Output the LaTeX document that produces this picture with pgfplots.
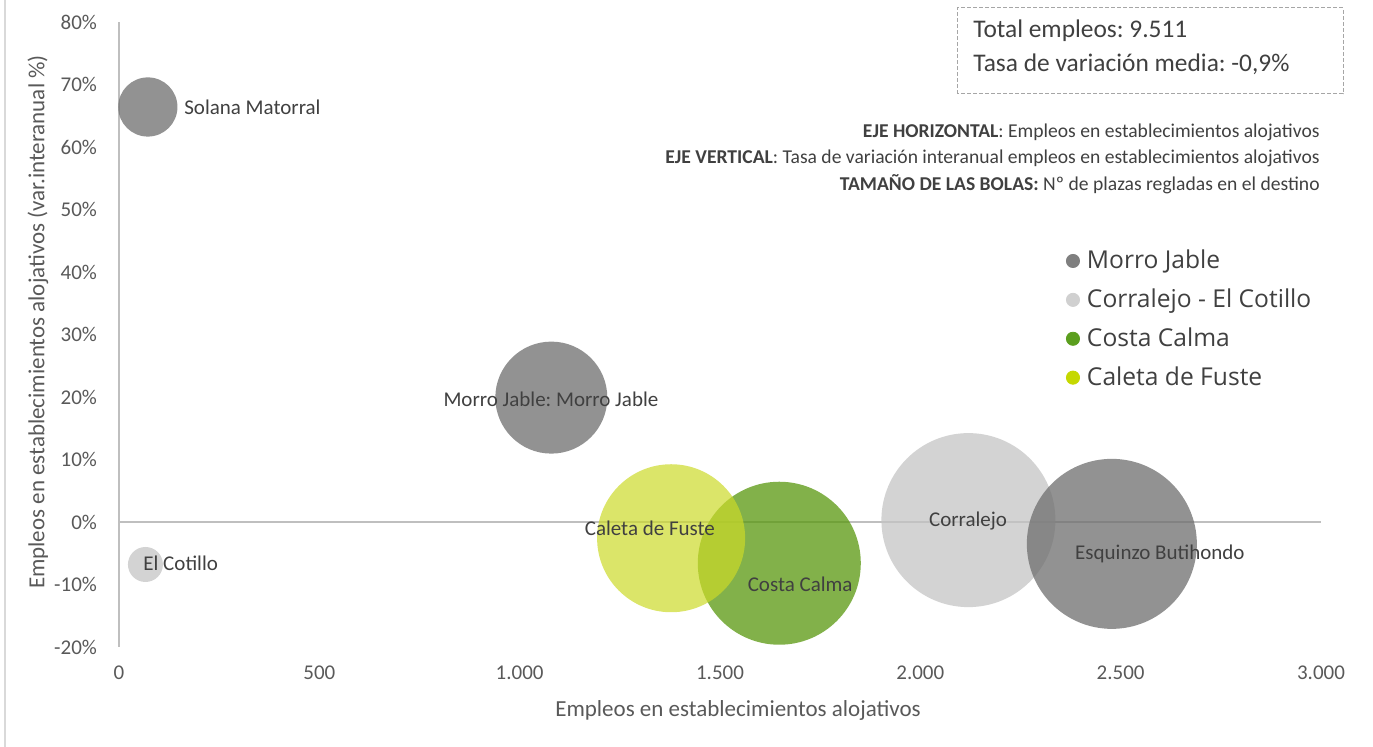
\documentclass[border=0pt]{standalone}
\usepackage{fontspec}
\setmainfont{Carlito}
\newfontfamily\legfont{Open Sans}
\usepackage{pgfplots}
\pgfplotsset{compat=1.18}
\definecolor{txt}{HTML}{404040}
\definecolor{tickc}{HTML}{595959}
\definecolor{axl}{HTML}{BFBFBF}
\definecolor{cMJ}{HTML}{6E6E6E}
\definecolor{cCO}{HTML}{C4C4C4}
\definecolor{cCC}{HTML}{58970D}
\definecolor{cCF}{HTML}{CCDA2A}
\definecolor{lMJ}{HTML}{7F7F7F}
\definecolor{lCO}{HTML}{D0D0D0}
\definecolor{lCC}{HTML}{5B9E1E}
\definecolor{lCF}{HTML}{C5D800}
\pgfplotsset{bubble/.style 2 args={only marks, mark=*, forget plot,
  mark options={fill=#1, draw=#1, fill opacity=#2, draw opacity=0}}}
\frenchspacing
\begin{document}
\begin{tikzpicture}
\path[use as bounding box] (0,0) rectangle (686.5pt,373.5pt);
\draw[color=black!15, line width=0.75pt] (2.5pt,0) -- (2.5pt,373.5pt);
\begin{axis}[
  at={(59.5pt,50pt)}, anchor=south west,
  scale only axis, width=601pt, height=312.5pt,
  xmin=0, xmax=3000, ymin=-20, ymax=80,
  clip=false,
  axis x line*=bottom, axis y line*=left,
  axis line style={-},
  x axis line style={draw=none},
  y axis line style={draw=axl, line width=0.75pt},
  xtick={0,500,...,3000}, ytick={-20,-10,...,80},
  major tick length=0,
  tick label style={font=\fontsize{10.5}{12}\selectfont, text=tickc},
  /pgf/number format/assume math mode=true,
  /pgf/number format/1000 sep={.},
  yticklabel={\pgfmathprintnumber{\tick}\%},
  yticklabel style={xshift=-7.5pt},
  xticklabel style={yshift=-6pt},
  extra y ticks={0}, extra y tick labels={},
  extra y tick style={grid=major, major grid style={draw=axl, line width=0.75pt}},
  xlabel={Empleos en establecimientos alojativos},
  ylabel={Empleos en establecimientos alojativos (var.interanual \%)},
  label style={font=\fontsize{11.5}{13}\selectfont, text=tickc},
  xlabel style={at={(axis description cs:0.515,-0.1008)}, anchor=center},
  ylabel style={at={(axis description cs:-0.0674,0.52)}, anchor=center},
  legend style={draw=none, fill=none, at={(rel axis cs:0.7875,0.642)}, anchor=north west,
    font=\legfont\fontsize{12.3}{14}\selectfont, text=txt, row sep=4.6pt, cells={anchor=west}, inner sep=0pt},
  legend image code/.code={\fill[#1] (0.15cm,0pt) circle (3.3pt); \path (0.15cm+4.8pt,0pt);},
]
\addlegendimage{lMJ}\addlegendentry{Morro Jable}
\addlegendimage{lCO}\addlegendentry{Corralejo - El Cotillo}
\addlegendimage{lCC}\addlegendentry{Costa Calma}
\addlegendimage{lCF}\addlegendentry{Caleta de Fuste}
% Morro Jable group
\addplot[bubble={cMJ}{0.75}, mark size=14.8pt] coordinates {(72,66.4)};
\addplot[bubble={cMJ}{0.75}, mark size=28pt] coordinates {(1079,19.9)};
% Corralejo group
\addplot[bubble={cCO}{0.75}, mark size=8.75pt] coordinates {(66,-6.8)};
\addplot[bubble={cCO}{0.75}, mark size=43.5pt] coordinates {(2120,0.3)};
\addplot[bubble={cMJ}{0.75}, mark size=42.5pt] coordinates {(2478,-3.5)};
% Costa Calma
\addplot[bubble={cCC}{0.75}, mark size=40.75pt] coordinates {(1648,-6.6)};
% Caleta de Fuste
\addplot[bubble={cCF}{0.7}, mark size=37pt] coordinates {(1378,-2.6)};
% label anchors
\coordinate (lSM) at (axis cs:162,66.4);
\coordinate (lEC) at (axis cs:60,-6.6);
\coordinate (lMJ) at (axis cs:1078,19.7);
\coordinate (lCF) at (axis cs:1325,-1.0);
\coordinate (lCC) at (axis cs:1700,-9.9);
\coordinate (lCO) at (axis cs:2119,0.2);
\coordinate (lEB) at (axis cs:2598,-5.1);
\end{axis}
\begin{scope}[every node/.style={font=\fontsize{10.5}{12}\selectfont, text=txt, inner sep=0pt}]
\node[anchor=west] at (lSM) {Solana Matorral};
\node[anchor=west] at (lEC) {El Cotillo};
\node at (lMJ) {Morro Jable: Morro Jable};
\node at (lCF) {Caleta de Fuste};
\node at (lCC) {Costa Calma};
\node at (lCO) {Corralejo};
\node at (lEB) {Esquinzo Butihondo};
\end{scope}
\draw[color=black!35, line width=0.5pt, dash pattern=on 2pt off 1pt] (478.5pt,326.5pt) rectangle (671.5pt,369.5pt);
\node[anchor=west, inner sep=0pt, font=\fontsize{12.7}{14}\selectfont, text=txt] at (486.5pt,358pt) {Total empleos: 9.511};
\node[anchor=west, inner sep=0pt, font=\fontsize{12.7}{14}\selectfont, text=txt] at (486.5pt,341.5pt) {Tasa de variación media: -0,9\%};
\begin{scope}[every node/.style={anchor=east, inner sep=0pt, font=\fontsize{9.8}{11}\selectfont, text=txt}]
\node at (660pt,307.5pt) {\textbf{EJE HORIZONTAL}: Empleos en establecimientos alojativos};
\node at (660pt,294.5pt) {\textbf{EJE VERTICAL}: Tasa de variación interanual empleos en establecimientos alojativos};
\node at (660pt,281.5pt) {\textbf{TAMAÑO DE LAS BOLAS:} Nº de plazas regladas en el destino};
\end{scope}
\end{tikzpicture}
\end{document}
